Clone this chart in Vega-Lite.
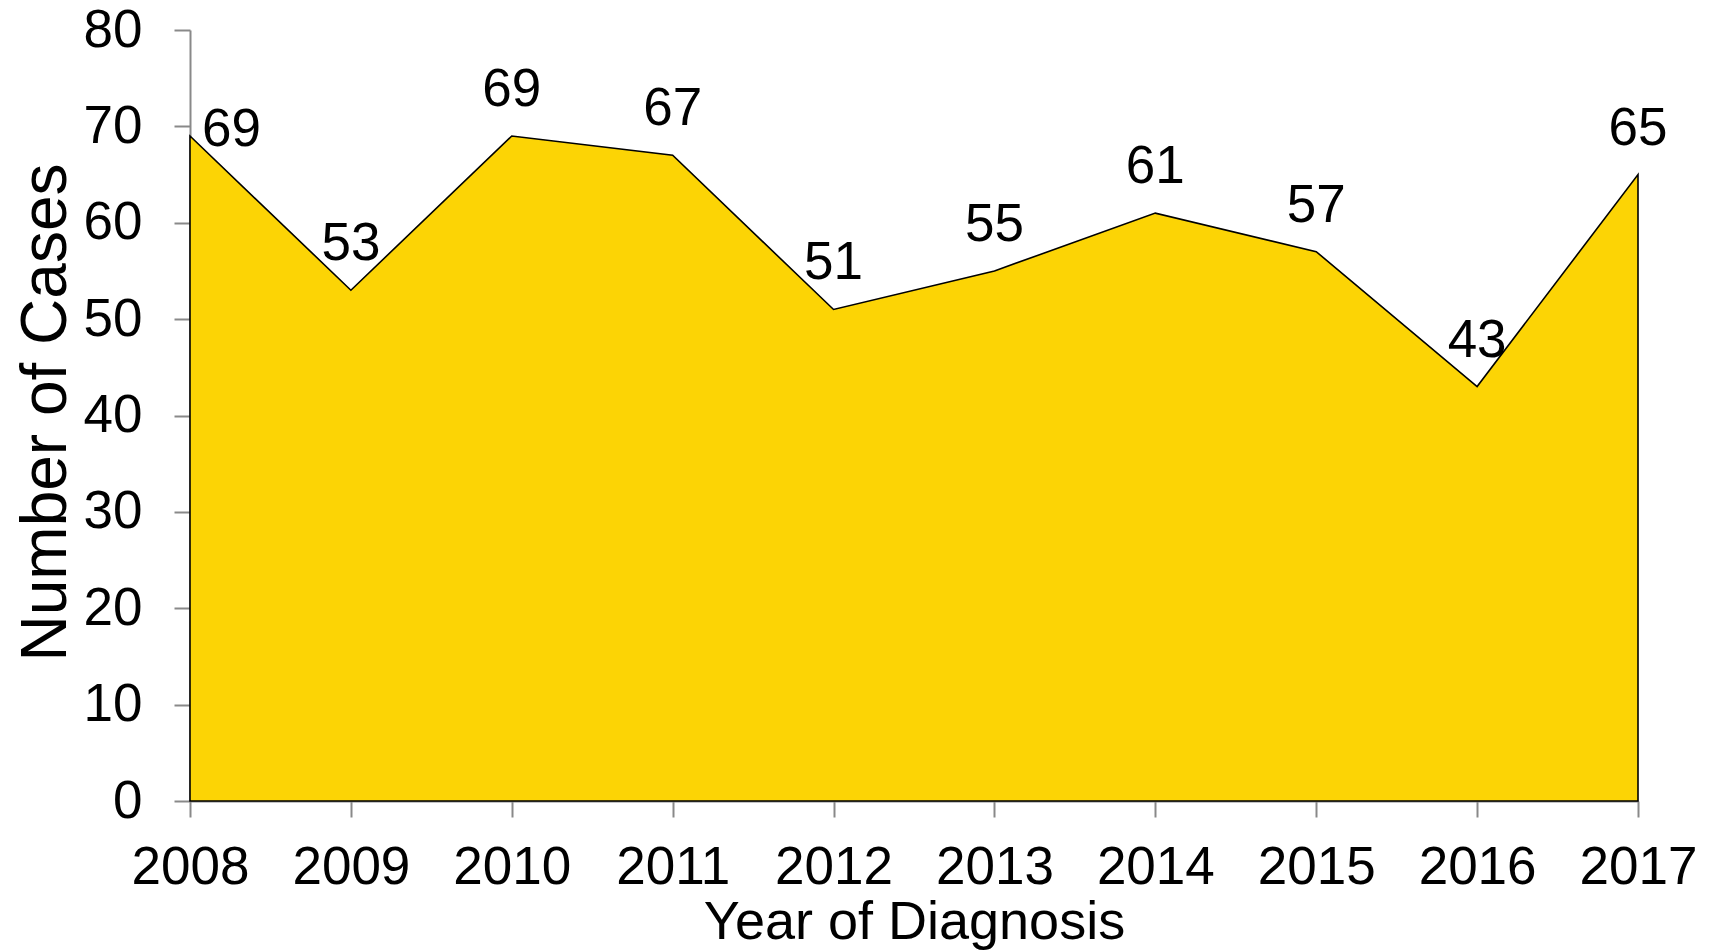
{
  "$schema": "https://vega.github.io/schema/vega-lite/v6.json",
  "width": 1448,
  "height": 771,
  "autosize": {"type": "none"},
  "padding": {"left": 190, "top": 30, "right": 76, "bottom": 150},
  "background": "white",
  "config": {
    "view": {"stroke": null},
    "axis": {
      "domainColor": "#898989",
      "domainWidth": 2,
      "tickColor": "#898989",
      "tickWidth": 2,
      "tickSize": 16,
      "grid": false,
      "labelFont": "Liberation Sans",
      "labelFontSize": 53,
      "labelColor": "#000000",
      "titleFont": "Liberation Sans",
      "titleFontSize": 54,
      "titleFontWeight": "normal",
      "titleColor": "#000000",
      "zindex": 1
    }
  },
  "data": {
    "values": [
      {"year": 2008, "cases": 69},
      {"year": 2009, "cases": 53},
      {"year": 2010, "cases": 69},
      {"year": 2011, "cases": 67},
      {"year": 2012, "cases": 51},
      {"year": 2013, "cases": 55},
      {"year": 2014, "cases": 61},
      {"year": 2015, "cases": 57},
      {"year": 2016, "cases": 43},
      {"year": 2017, "cases": 65}
    ]
  },
  "encoding": {
    "x": {
      "field": "year",
      "type": "quantitative",
      "scale": {"domain": [2008, 2017], "nice": false, "zero": false},
      "axis": {
        "values": [2008, 2009, 2010, 2011, 2012, 2013, 2014, 2015, 2016, 2017],
        "format": "d",
        "labelPadding": 24,
        "labelFlush": false,
        "labelOverlap": false,
        "title": "Year of Diagnosis",
        "titleX": 724,
        "titleY": 137,
        "titleBaseline": "alphabetic",
        "titleAlign": "center"
      }
    },
    "y": {
      "field": "cases",
      "type": "quantitative",
      "scale": {"domain": [0, 80], "nice": false},
      "axis": {
        "values": [0, 10, 20, 30, 40, 50, 60, 70, 80],
        "labelPadding": 32,
        "labelFlush": false,
        "labelOverlap": false,
        "title": "Number of Cases",
        "titleFontSize": 64,
        "titleAngle": -90,
        "titleX": -125,
        "titleY": 382,
        "titleBaseline": "alphabetic",
        "titleAlign": "center"
      }
    }
  },
  "layer": [
    {
      "mark": {"type": "area", "color": "#FCD405", "stroke": "#000000", "strokeWidth": 1.6, "strokeJoin": "miter"}
    },
    {
      "transform": [{"filter": "datum.year > 2008"}],
      "mark": {"type": "text", "font": "Liberation Sans", "fontSize": 53, "color": "#000000", "align": "center", "baseline": "alphabetic", "dy": -30},
      "encoding": {"text": {"field": "cases", "type": "quantitative"}}
    },
    {
      "transform": [{"filter": "datum.year == 2008"}],
      "mark": {"type": "text", "font": "Liberation Sans", "fontSize": 53, "color": "#000000", "align": "left", "baseline": "alphabetic", "dx": 12, "dy": 10},
      "encoding": {"text": {"field": "cases", "type": "quantitative"}}
    }
  ]
}
